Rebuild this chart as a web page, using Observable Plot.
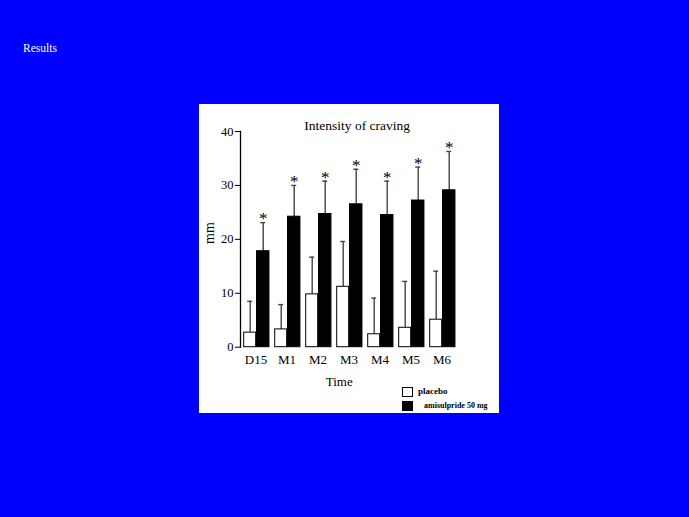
<!DOCTYPE html>
<html>
<head>
<meta charset="utf-8">
<script src="https://cdn.jsdelivr.net/npm/d3@7"></script>
<script src="https://cdn.jsdelivr.net/npm/@observablehq/plot@0.6"></script>
<style>
  html, body { margin: 0; padding: 0; width: 689px; height: 517px; background: #0000fe; overflow: hidden; }
  #results { position: absolute; left: 23px; top: 42px; color: #fff; font: 11.5px "Liberation Serif", serif; }
  #panel { position: absolute; left: 199px; top: 104px; width: 300px; height: 309px; background: #fff; }
  #panel svg { display: block; }
  .lg { position: absolute; font-family: "Liberation Serif", serif; font-weight: bold; color: #000; white-space: nowrap; }
  .sw { position: absolute; width: 9px; height: 8px; border: 1px solid #000; }
</style>
</head>
<body>
<div id="results">Results</div>
<div id="panel"></div>
<script>
const times = ["D15", "M1", "M2", "M3", "M4", "M5", "M6"];
const seriesNames = ["placebo", "amisulpride 50 mg"];
const placeboMean = [2.7, 3.3, 9.8, 11.2, 2.4, 3.6, 5.1];
const placeboSD = [5.8, 4.6, 6.9, 8.4, 6.7, 8.6, 9.0];
const amiMean = [17.8, 24.2, 24.7, 26.5, 24.5, 27.2, 29.1];
const amiSD = [5.3, 5.8, 6.1, 6.5, 6.3, 6.2, 7.2];
const yTicks = [0, 10, 20, 30, 40];
const title = "Intensity of craving";
const xLabel = "Time";
const yLabel = "mm";

const placebo = times.map((t, i) => ({time: t, mean: placeboMean[i], top: placeboMean[i] + placeboSD[i]}));
const ami = times.map((t, i) => ({time: t, mean: amiMean[i], top: amiMean[i] + amiSD[i]}));

const font = "'Liberation Serif', 'Times New Roman', serif";

const chart = Plot.plot({
  width: 300,
  height: 309,
  marginLeft: 41,
  marginRight: 41.65,
  marginTop: 27,
  marginBottom: 66.3,
  style: {fontFamily: font, background: "transparent", color: "#000"},
  x: {domain: times, padding: 0},
  y: {domain: [0, 40]},
  marks: [
    Plot.axisY({ticks: yTicks, tickSize: 5, tickPadding: 2, fontSize: 12.5, label: null}),
    Plot.axisX({tickSize: 0, tickPadding: 8, fontSize: 13, label: null}),
    Plot.frame({anchor: "left", stroke: "#000", strokeWidth: 1.3}),
    // error bars
    Plot.ruleX(placebo, {x: "time", y1: "mean", y2: "top", dx: -5.8, stroke: "#444", strokeWidth: 1.4}),
    Plot.tickY(placebo, {x: "time", y: "top", insetLeft: 7.2, insetRight: 18.85, stroke: "#444", strokeWidth: 1.4}),
    Plot.ruleX(ami, {x: "time", y1: "mean", y2: "top", dx: 7.2, stroke: "#444", strokeWidth: 1.4}),
    Plot.tickY(ami, {x: "time", y: "top", insetLeft: 20.25, insetRight: 5.8, stroke: "#444", strokeWidth: 1.4}),
    // bars
    Plot.barY(placebo, {x: "time", y: "mean", insetLeft: 3.7, insetRight: 15.35, fill: "#fff", stroke: "#000", strokeWidth: 1}),
    Plot.barY(ami, {x: "time", y: "mean", insetLeft: 16.5, insetRight: 2.05, fill: "#000", stroke: "#000", strokeWidth: 1}),
    // significance stars
    Plot.text(ami, {x: "time", y: "top", text: () => "*", dx: 7.2, dy: -4, fontSize: 17, fill: "#000", lineAnchor: "middle"}),
    // labels
    Plot.text([title], {frameAnchor: "top", lineAnchor: "middle", dx: 8, dy: -6, fontSize: 13.5}),
    Plot.text([xLabel], {frameAnchor: "bottom", lineAnchor: "middle", dx: -10, dy: 34.8, fontSize: 13}),
    Plot.text([yLabel], {frameAnchor: "left", lineAnchor: "middle", rotate: -90, dx: -31, dy: 4.6, fontSize: 14})
  ]
});

const panel = document.getElementById("panel");
panel.appendChild(chart);

// legend
const legendItems = [
  {name: seriesNames[0], fill: "#fff", top: 283, textLeft: 219, size: 9},
  {name: seriesNames[1], fill: "#000", top: 297, textLeft: 225, size: 8}
];
legendItems.forEach(d => {
  const sw = document.createElement("div");
  sw.className = "sw";
  sw.style.left = "203px";
  sw.style.top = d.top + "px";
  sw.style.background = d.fill;
  panel.appendChild(sw);
  const t = document.createElement("div");
  t.className = "lg";
  t.textContent = d.name;
  t.style.left = d.textLeft + "px";
  t.style.top = (d.top - 1) + "px";
  t.style.fontSize = d.size + "px";
  t.style.lineHeight = "11px";
  panel.appendChild(t);
});
</script>
</body>
</html>
